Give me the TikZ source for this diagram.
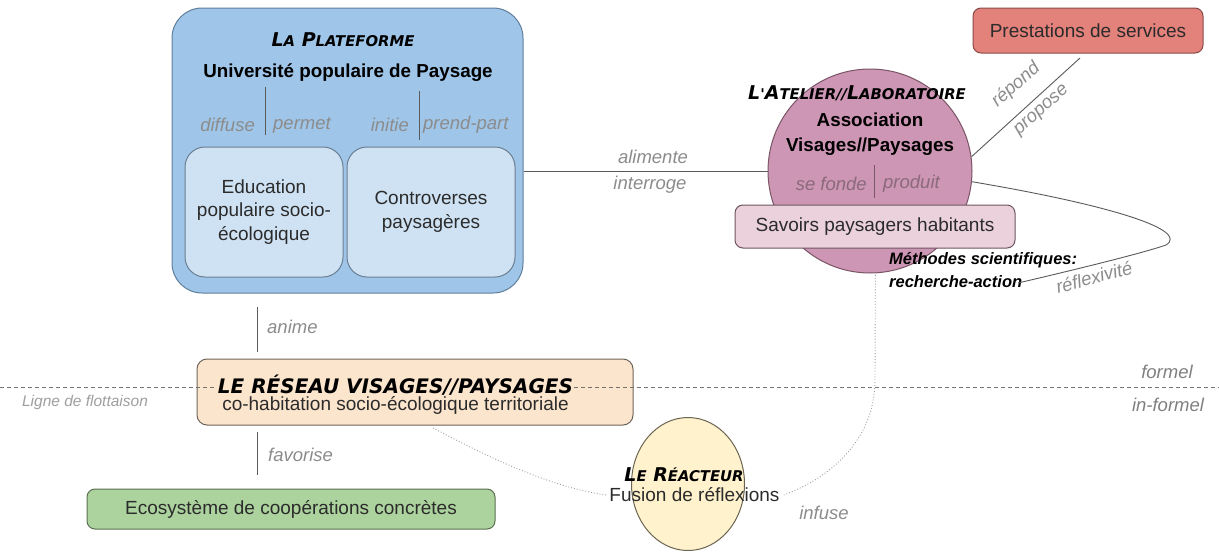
\documentclass[tikz,border=0pt]{standalone}
\usepackage{fontspec}
\setmainfont{Liberation Sans}
\newfontfamily\ttlfont{DejaVu Sans}
\usepackage{graphicx}
\usetikzlibrary{shapes.geometric}
\newcommand\smc[1]{\scalebox{0.78}{#1}}
\definecolor{platfill}{HTML}{9FC5E8}
\definecolor{platdraw}{HTML}{5F7E9C}
\definecolor{innerfill}{HTML}{CFE2F3}
\definecolor{innerdraw}{HTML}{6B7F92}
\definecolor{circfill}{HTML}{CD96B4}
\definecolor{circdraw}{HTML}{7A5566}
\definecolor{savfill}{HTML}{EAD1DC}
\definecolor{savdraw}{HTML}{6F5560}
\definecolor{presfill}{HTML}{E3817B}
\definecolor{presdraw}{HTML}{8A4A48}
\definecolor{resfill}{HTML}{FCE5CD}
\definecolor{resdraw}{HTML}{6F6458}
\definecolor{ecofill}{HTML}{ACD39E}
\definecolor{ecodraw}{HTML}{5B7050}
\definecolor{reafill}{HTML}{FFF2CC}
\definecolor{readraw}{HTML}{6A6450}
\definecolor{lblgray}{HTML}{8C8C8C}
\definecolor{txt}{HTML}{2B2B2B}
\definecolor{edge}{HTML}{5A5A5A}
\definecolor{circlbl}{HTML}{8A6A7B}
\begin{document}
\begin{tikzpicture}[x=1pt,y=-1pt,
  boxbase/.style={line width=1pt, align=center, inner sep=0pt, text=txt, font=\fontsize{19}{23.5}\selectfont},
  plain/.style={inner sep=0pt, text=txt, font=\fontsize{19}{23.5}\selectfont},
  boldtxt/.style={inner sep=0pt, text=black, align=center, font=\fontsize{18.8}{25}\selectfont\bfseries},
  lbl/.style={inner sep=0pt, text=lblgray, font=\fontsize{18.5}{22}\selectfont\itshape},
  ttl/.style={inner sep=0pt, text=black, font=\fontsize{19}{19}\selectfont\ttlfont\bfseries\itshape},
  conn/.style={draw=edge, line width=0.9pt},
  dots/.style={draw=gray!75, dotted, line width=0.9pt},
  dashline/.style={draw=gray!90!black, dash pattern=on 4pt off 3pt, line width=0.8pt}
]
\fill[white] (0,0) rectangle (1219,552);
\useasboundingbox (0,0) rectangle (1219,552);

% ---------- La Plateforme ----------
\node[boxbase, draw=platdraw, fill=platfill, rounded corners=30pt, minimum width=351pt, minimum height=285pt] (plat) at (347.5,150.5) {};
\node[ttl] (platT) at (343,40) {L\smc{A} P\smc{LATEFORME}};
\node[boldtxt] (platS) at (348,73) {Université populaire de Paysage};
\coordinate (d1a) at (265,87); \coordinate (d1b) at (265,135);
\coordinate (d2a) at (419,91); \coordinate (d2b) at (419,140);
\draw[conn] (d1a) -- (d1b);
\draw[conn] (d2a) -- (d2b);
\node[lbl, anchor=east] (diffuse) at (255,125) {diffuse};
\node[lbl, anchor=west] (permet) at (273,125) {permet};
\node[lbl, anchor=east] (initie) at (409,125) {initie};
\node[lbl, anchor=west] (prendpart) at (423,125) {prend-part};
\node[boxbase, draw=innerdraw, fill=innerfill, rounded corners=20pt, minimum width=158pt, minimum height=130pt] (edu) at (264,212) {Education\\populaire socio-\\écologique};
\node[boxbase, draw=innerdraw, fill=innerfill, rounded corners=20pt, minimum width=168pt, minimum height=130pt] (contro) at (431,212) {Controverses\\paysagères};

% ---------- L'Atelier ----------
\node[circle, draw=circdraw, fill=circfill, line width=1pt, minimum size=204pt, inner sep=0pt] (circ) at (870,171) {};
\draw[conn] (plat.east |- circ.west) -- (circ.west);
\node[lbl] (alimente) at (653,157) {alimente};
\node[lbl] (interroge) at (650,185) {interroge};
\node[ttl] (atT) at (857,93) {L\smc{'}A\smc{TELIER//}L\smc{ABORATOIRE}};
\node[boldtxt] (assoc) at (870,134.5) {Association\\Visages//Paysages};
\coordinate (d3a) at (874,165); \coordinate (d3b) at (874,198);
\draw[draw=circdraw, line width=0.9pt] (d3a) -- (d3b);
\node[lbl, text=circlbl, anchor=east] (sefonde) at (867,184) {se fonde};
\node[lbl, text=circlbl, anchor=west] (produit) at (883,184) {produit};
\node[boxbase, draw=savdraw, fill=savfill, rounded corners=8pt, minimum width=280pt, minimum height=43pt] (savoirs) at (875,226.5) {Savoirs paysagers habitants};
\node[anchor=west, align=left, inner sep=0pt, text=black, font=\fontsize{16.5}{23}\selectfont\bfseries\itshape] (meth) at (889,270) {Méthodes scientifiques:\\recherche-action};

% ---------- Prestations ----------
\node[boxbase, draw=presdraw, fill=presfill, rounded corners=8pt, minimum width=230pt, minimum height=45pt] (pres) at (1088,30.5) {Prestations de services};
\coordinate (presEnd) at (1080,58);
\draw[conn] (circ.8) -- (presEnd);
\node[lbl, rotate=41.5] (repond) at (1016,85) {répond};
\node[lbl, rotate=41.5] (propose) at (1042,111) {propose};

% ---------- Réflexivité ----------
\coordinate (reflB) at (1018,283);
\draw[conn] (circ.-6) .. controls (1110,205) and (1190,230) .. (1166,245) .. controls (1140,254) and (1065,272) .. (reflB);
\node[lbl, rotate=15] (reflex) at (1094,277) {réflexivité};

% ---------- Le Réseau ----------
\node[boxbase, draw=resdraw, fill=resfill, rounded corners=10pt, minimum width=436pt, minimum height=66pt] (res) at (415,392) {};
\coordinate (flotL) at (0,387); \coordinate (flotR) at (1219,387);
\draw[dashline] (flotL) -- (flotR);
\node[ttl, font=\fontsize{20}{20}\selectfont\ttlfont\bfseries\itshape, fill=resfill, inner sep=1pt] (resT) at (395.5,385) {LE RÉSEAU VISAGES//PAYSAGES};
\node[plain] (resS) at (395.5,405) {co-habitation socio-écologique territoriale};
\node[lbl, font=\fontsize{15.5}{18}\selectfont\itshape, text=gray!75] (ligne) at (85,402) {Ligne de flottaison};
\node[lbl, text=gray] (formel) at (1167,372) {formel};
\node[lbl, text=gray] (informel) at (1168,405) {in-formel};

\coordinate (an1) at (257,307); \coordinate (an2) at (257,352);
\draw[conn] (an1) -- (an2);
\node[lbl, anchor=west] (anime) at (267,327) {anime};
\coordinate (fa1) at (257,432); \coordinate (fa2) at (257,475);
\draw[conn] (fa1) -- (fa2);
\node[lbl, anchor=west] (favorise) at (268,455) {favorise};

% ---------- Ecosystème ----------
\node[boxbase, draw=ecodraw, fill=ecofill, rounded corners=8pt, minimum width=408pt, minimum height=40pt] (eco) at (291,509) {Ecosystème de coopérations concrètes};

% ---------- Le Réacteur ----------
\node[ellipse, draw=readraw, fill=reafill, line width=1pt, minimum width=113pt, minimum height=133pt, inner sep=0pt] (rea) at (688,484) {};
\node[ttl] (reaT) at (684,475) {L\smc{E} R\smc{ÉACTEUR}};
\node[plain] (reaS) at (694.5,495) {Fusion de réflexions};
\coordinate (dotA) at (433,428);
\draw[dots] (dotA) .. controls (490,458) and (550,487) .. ([xshift=-3pt]reaS.west);
\draw[dots] ([xshift=4pt]reaS.east) .. controls (830,478) and (875,440) .. (875,380) -- (circ.-87);
\node[lbl] (infuse) at (824,513) {infuse};
\end{tikzpicture}
\end{document}
